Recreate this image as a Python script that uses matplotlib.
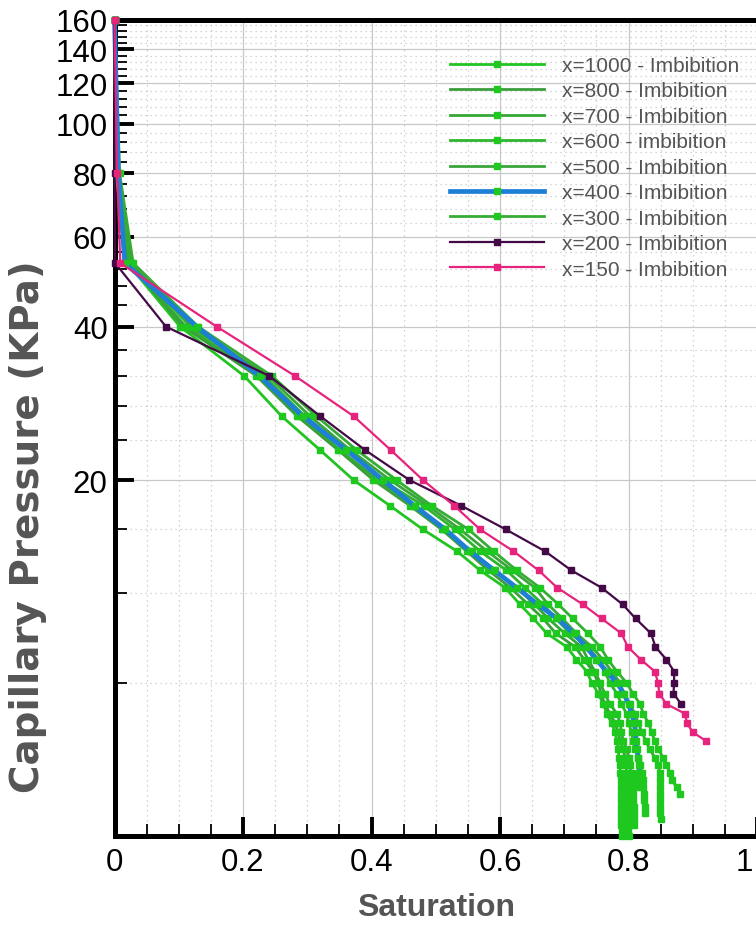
import numpy as np
import matplotlib
matplotlib.use("Agg")
import matplotlib.pyplot as plt
import matplotlib.transforms as mtransforms
from matplotlib.ticker import FixedLocator, FixedFormatter

plt.rcParams['font.family'] = ['Liberation Sans', 'DejaVu Sans']

# capillary pressure levels (KPa), same for all curves
pressure = [160, 80, 53.3, 40, 32, 26.7, 22.9, 20, 17.8, 16, 14.5, 13.3, 12.3, 11.4,
            10.7, 10, 9.41, 8.89, 8.42, 8, 7.62, 7.27, 6.96, 6.67, 6.4, 6.15, 5.93,
            5.71, 5.52, 5.33, 5.16, 5.0, 4.85, 4.71, 4.57, 4.44, 4.32, 4.21, 4.10, 4.0]

# saturation, one point per pressure level
s1000 = [0, .002, .020, .102, .202, .260, .320, .372, .429, .480, .533, .569, .608, .631,
         .652, .673, .704, .719, .735, .743, .753, .761, .766, .774, .779, .782, .784,
         .785, .787, .787, .788, .788, .788, .788, .789, .789, .789, .789, .790, .790]
s800 = [0, .003, .022, .107, .221, .284, .348, .403, .460, .509, .548, .582, .616, .644,
        .667, .687, .717, .731, .745, .753, .757, .763, .771, .779, .784, .787, .791,
        .795, .796, .797, .797, .798, .798, .798, .798, .798, .799, .799, .799, .800]
s700 = [0, .004, .024, .111, .226, .289, .351, .410, .465, .512, .556, .592, .626, .654,
        .675, .701, .727, .737, .748, .756, .763, .771, .782, .787, .789, .792, .797,
        .800, .802, .805, .805, .807, .807, .807, .808, .808, .808, .809]
s600 = [0, .005, .026, .118, .233, .296, .362, .416, .481, .530, .569, .610, .639, .667,
        .687, .709, .737, .753, .763, .771, .782, .789, .797, .800, .805, .807, .810,
        .815, .818, .821, .823, .823, .824, .824, .826, .826]
s500 = [0, .006, .027, .121, .239, .304, .367, .429, .488, .538, .580, .619, .654, .675,
        .697, .719, .743, .760, .774, .787, .792, .802, .810, .815, .821, .827, .833,
        .841, .846, .849, .849, .849, .849, .849, .849, .849, .850]
s400 = [0, .006, .016, .128, .226, .293, .361, .418, .467, .515, .553, .591, .626, .659,
        .689, .715, .734, .750, .766, .782, .793, .800, .805, .809, .811, .812, .814,
        .815, .816, .817, .817, .818]
s300 = [0, .008, .029, .130, .245, .314, .377, .439, .494, .551, .590, .626, .662, .691,
        .713, .737, .756, .768, .782, .797, .807, .818, .823, .831, .836, .841, .846,
        .854, .859, .865, .867, .875, .880]
s200 = [0, 0, .001, .080, .241, .320, .390, .459, .540, .609, .670, .711, .758, .791,
        .811, .835, .842, .859, .871, .871, .870, .882]
s150 = [0, .004, .009, .159, .281, .372, .430, .480, .529, .569, .621, .660, .689, .729,
        .758, .789, .799, .819, .841, .846, .848, .859, .888, .891, .900, .921]

labels = ["x=1000 - Imbibition", "x=800 - Imbibition", "x=700 - Imbibition",
          "x=600 - imbibition", "x=500 - Imbibition", "x=400 - Imbibition",
          "x=300 - Imbibition", "x=200 - Imbibition", "x=150 - Imbibition"]
series = [s1000, s800, s700, s600, s500, s400, s300, s200, s150]
line_colors = ['#22c422', '#3a9e3a', '#34a834', '#2db52d', '#3aa63a', '#1e7fd6',
               '#35ad35', '#440a48', '#e6237d']
marker_colors = ['#1ec81e'] * 7 + ['#440a48', '#e6237d']
widths = [2.0, 2.0, 2.0, 2.0, 2.0, 3.4, 2.0, 1.6, 1.6]
zorders = [4, 4, 4, 4, 4, 4.5, 4, 5, 6]

fig = plt.figure(figsize=(7.56, 9.28), dpi=100)
ax = fig.add_axes([114.5 / 756, 1 - 837.3 / 928, 642.5 / 756, (837.3 - 20.7) / 928])

handles = []
for s, lab, lc, mc, lw, z in zip(series, labels, line_colors, marker_colors, widths, zorders):
    h, = ax.plot(s, pressure[:len(s)], color=lc, lw=lw, marker='s', ms=3.8,
                 mfc=mc, mec=mc, label=lab, zorder=z, clip_on=False)
    handles.append(h)

ax.set_yscale('log')
ax.set_xlim(0, 1)
ax.set_ylim(4, 160)

ymaj = [20, 40, 60, 80, 100, 120, 140, 160]
ax.yaxis.set_major_locator(FixedLocator(ymaj))
ax.yaxis.set_major_formatter(FixedFormatter([str(v) for v in ymaj]))
ax.yaxis.set_minor_locator(FixedLocator([v for v in range(4, 160, 4) if v not in ymaj]))
ax.yaxis.set_minor_formatter(FixedFormatter([]))
ax.xaxis.set_major_locator(FixedLocator([0, 0.2, 0.4, 0.6, 0.8, 1.0]))
ax.xaxis.set_major_formatter(FixedFormatter(['0', '0.2', '0.4', '0.6', '0.8', '1']))
ax.xaxis.set_minor_locator(FixedLocator(np.arange(0.05, 1.0, 0.05)))

ax.tick_params(which='major', direction='in', length=14, width=2.8, labelsize=22.5, pad=5)
ax.tick_params(which='minor', direction='in', length=8.5, width=1.3)
ax.tick_params(axis='x', which='major', pad=8)

ax.grid(which='major', color='#c8c8c8', lw=0.9, ls='-', zorder=0)
ax.grid(which='minor', color='#c8c8c8', lw=0.9, ls=(0, (1, 3)), zorder=0)
ax.set_axisbelow(True)

for side in ['left', 'bottom', 'top']:
    ax.spines[side].set_linewidth(3.6)
ax.spines['right'].set_visible(False)

# the "1" label sits on the right edge; keep it inside the picture
last = ax.xaxis.get_major_ticks()[-1].label1
last.set_horizontalalignment('right')
last.set_transform(last.get_transform() +
                   mtransforms.ScaledTranslation(-0.035, 0, fig.dpi_scale_trans))

ax.text(-0.1346, 0.38, "Capillary Pressure (KPa)", transform=ax.transAxes, rotation=90,
        ha='center', va='center', fontsize=28, fontweight='bold', color='#555555',
        family='DejaVu Sans')
ax.text(0.5, -0.0865, "Saturation", transform=ax.transAxes, ha='center', va='center',
        fontsize=23, fontweight='bold', color='#555555')

ax.legend(handles, labels, loc='upper left', bbox_to_anchor=(450 / 756, 1 - 57 / 928),
          bbox_transform=fig.transFigure, frameon=False, borderpad=0, borderaxespad=0,
          handlelength=4.5, handletextpad=0.9, labelspacing=0.31, numpoints=1,
          fontsize=15, labelcolor='#555555')

fig.savefig('out.png', dpi=100)
